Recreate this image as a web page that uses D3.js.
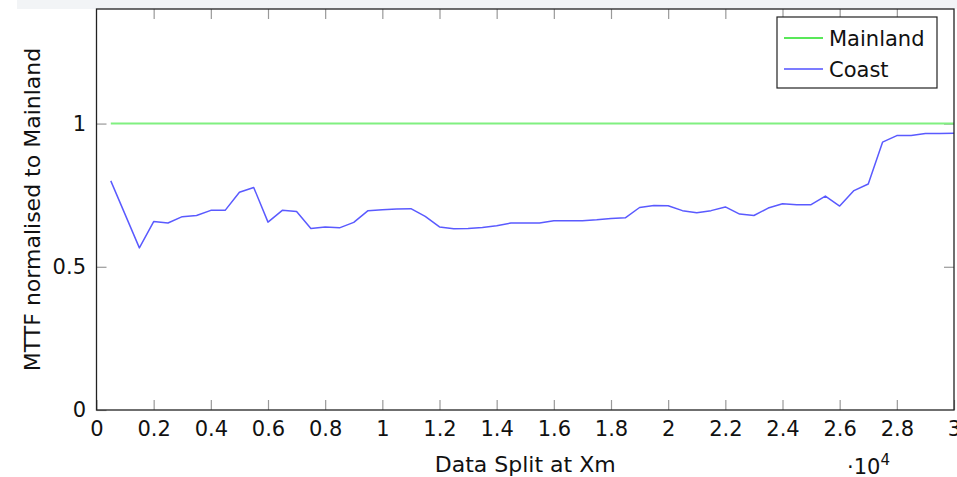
<!DOCTYPE html>
<html>
<head>
<meta charset="utf-8">
<script src="https://cdn.jsdelivr.net/npm/d3@7"></script>
<style>
  body { margin: 0; background: #fff; }
  text { font-family: "DejaVu Sans", sans-serif; fill: #111; }
</style>
</head>
<body>
<div id="chart"></div>
<script>
// data split position (x 10^4 m)
var splitX = [0.05, 0.15, 0.2, 0.25, 0.3, 0.35, 0.4, 0.45, 0.5, 0.55,
  0.6, 0.65, 0.7, 0.75, 0.8, 0.85, 0.9, 0.95, 1.0, 1.05,
  1.1, 1.15, 1.2, 1.25, 1.3, 1.35, 1.4, 1.45, 1.5, 1.55,
  1.6, 1.65, 1.7, 1.75, 1.8, 1.85, 1.9, 1.95, 2.0, 2.05,
  2.1, 2.15, 2.2, 2.25, 2.3, 2.35, 2.4, 2.45, 2.5, 2.55,
  2.6, 2.65, 2.7, 2.75, 2.8, 2.85, 2.9, 2.95, 3.0];

// normalised MTTF, coast
var coast = [0.80, 0.566, 0.658, 0.653, 0.675, 0.679, 0.697, 0.697, 0.760, 0.777,
  0.656, 0.697, 0.693, 0.634, 0.639, 0.636, 0.655, 0.696, 0.699, 0.702,
  0.703, 0.676, 0.639, 0.633, 0.634, 0.637, 0.643, 0.653, 0.653, 0.653,
  0.661, 0.661, 0.661, 0.664, 0.669, 0.671, 0.707, 0.714, 0.713, 0.696,
  0.689, 0.696, 0.709, 0.684, 0.679, 0.705, 0.720, 0.717, 0.717, 0.747,
  0.712, 0.766, 0.789, 0.935, 0.958, 0.958, 0.965, 0.965, 0.966];

// mainland is the reference, always 1
var mainland = splitX.map(function() { return 1; });

var xTicks = [0, 0.2, 0.4, 0.6, 0.8, 1, 1.2, 1.4, 1.6, 1.8, 2, 2.2, 2.4, 2.6, 2.8, 3];
var yTicks = [0, 0.5, 1];

var W = 957, H = 477;
var plotL = 96.5, plotR = 954, plotT = 9, plotB = 410;
var font = "DejaVu Sans, sans-serif";

var svg = d3.select("#chart").append("svg")
  .attr("width", W).attr("height", H);

// faint band along the top edge
svg.append("rect")
  .attr("x", 17).attr("y", 0).attr("width", W - 17).attr("height", 9)
  .attr("fill", "#f2f4f6");

var x = d3.scaleLinear().domain([0, 3]).range([plotL, plotR]);
var y = d3.scaleLinear().domain([0, 1.4]).range([plotB, plotT]);

// inward ticks on all four sides
var tickLen = 10;
function drawTicks(axis, transform) {
  var g = svg.append("g").attr("transform", transform).call(axis);
  g.select(".domain").remove();
  g.selectAll(".tick line").attr("stroke", "#999").attr("stroke-width", 1.2);
  g.selectAll("text").attr("font-size", 21).attr("fill", "#111")
    .attr("font-family", font);
  return g;
}

drawTicks(d3.axisBottom(x).tickValues(xTicks).tickSize(-tickLen)
  .tickPadding(11).tickFormat(d3.format("~g")), "translate(0," + plotB + ")");

drawTicks(d3.axisTop(x).tickValues(xTicks.slice(1, -1)).tickSize(-tickLen)
  .tickFormat(""), "translate(0," + plotT + ")");

drawTicks(d3.axisLeft(y).tickValues(yTicks).tickSize(-tickLen)
  .tickPadding(10.5).tickFormat(d3.format("~g")), "translate(" + plotL + ",0)");

drawTicks(d3.axisRight(y).tickValues(yTicks.slice(1)).tickSize(-tickLen)
  .tickFormat(""), "translate(" + plotR + ",0)");

// lines
var line = d3.line()
  .x(function(d) { return x(d[0]); })
  .y(function(d) { return y(d[1]); });

svg.append("path")
  .datum(d3.zip(splitX, mainland))
  .attr("d", line)
  .attr("fill", "none")
  .attr("stroke", "#80f080")
  .attr("stroke-width", 2);

svg.append("path")
  .datum(d3.zip(splitX, coast))
  .attr("d", line)
  .attr("fill", "none")
  .attr("stroke", "#5a5aff")
  .attr("stroke-width", 1.5)
  .attr("stroke-linejoin", "round");

// frame
svg.append("rect")
  .attr("x", plotL).attr("y", plotT)
  .attr("width", plotR - plotL).attr("height", plotB - plotT)
  .attr("fill", "none").attr("stroke", "#222").attr("stroke-width", 1.3);

// axis labels
svg.append("text")
  .attr("x", (plotL + plotR) / 2).attr("y", 472)
  .attr("text-anchor", "middle").attr("font-size", 22)
  .text("Data Split at Xm");

var mult = svg.append("text")
  .attr("x", 847).attr("y", 474).attr("font-size", 21);
mult.append("tspan").text("\u00b710");
mult.append("tspan").attr("dy", -9).attr("font-size", 15).text("4");

svg.append("text")
  .attr("transform", "translate(40," + (plotT + plotB) / 2 + ") rotate(-90)")
  .attr("text-anchor", "middle").attr("font-size", 22)
  .text("MTTF normalised to Mainland");

// legend
var legend = svg.append("g");
legend.append("rect")
  .attr("x", 777).attr("y", 17).attr("width", 160).attr("height", 71)
  .attr("fill", "#fff").attr("stroke", "#222").attr("stroke-width", 1.2);

var legendItems = [
  { name: "Mainland", color: "#22e022" },
  { name: "Coast", color: "#5050ff" }
];
legendItems.forEach(function(d, i) {
  var ly = 38 + i * 31;
  legend.append("line")
    .attr("x1", 784).attr("x2", 823).attr("y1", ly).attr("y2", ly)
    .attr("stroke", d.color).attr("stroke-width", 1.4);
  legend.append("text")
    .attr("x", 829).attr("y", ly + 8).attr("font-size", 21)
    .text(d.name);
});
</script>
</body>
</html>
